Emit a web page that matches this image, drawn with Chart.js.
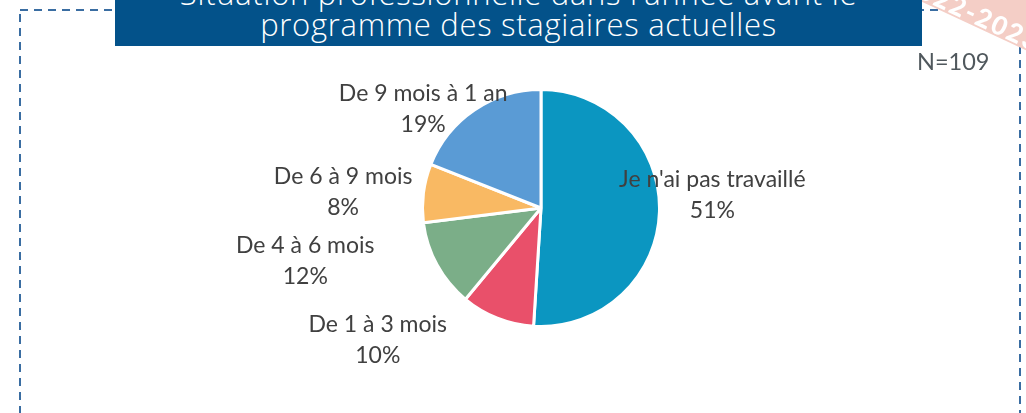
<!DOCTYPE html>
<html lang="fr">
<head>
<meta charset="utf-8">
<script src="https://cdn.jsdelivr.net/npm/chart.js@4/dist/chart.umd.min.js"></script>
<style>
  html, body { margin: 0; padding: 0; background: #fff; }
  #wrap { position: relative; width: 1026px; height: 413px; overflow: hidden; }
  #pie { position: absolute; left: 0; top: 0; }
  .banner {
    position: absolute; left: 115px; top: 0; width: 807px; height: 46px;
    background: #03528a; color: #fff; overflow: hidden;
    font-family: "Open Sans", sans-serif; font-weight: 300; font-size: 31px;
    line-height: 30px; letter-spacing: 0.7px; text-align: center;
  }
  .banner div { position: absolute; left: 0; right: 0; white-space: nowrap; }
  .nlabel {
    position: absolute; left: 917px; top: 47px;
    font-family: "Lato", sans-serif; font-size: 23.5px; color: #50585d;
  }
  .stamp {
    position: absolute; left: 918px; top: -70px; width: 220px; height: 70px;
    background: #f4cec6; transform: rotate(25deg); transform-origin: 0 100%;
  }
  .stamp span {
    position: absolute; left: -20px; bottom: -4px;
    color: #fff; font-family: "Lato", sans-serif; font-weight: 900; font-size: 26px;
    letter-spacing: 2px; white-space: nowrap;
  }
</style>
</head>
<body>
<div id="wrap">
  <canvas id="pie" width="1026" height="413"></canvas>
  <div class="stamp"><span>2022-2023</span></div>
  <div class="banner">
    <div style="top:-22px">Situation professionnelle dans l'année avant le</div>
    <div style="top:9px">programme des stagiaires actuelles</div>
  </div>
  <div class="nlabel">N=109</div>
</div>
<script>
// Situation professionnelle, % des stagiaires (N=109)
const categories = ["Je n'ai pas travaillé", 'De 1 à 3 mois', 'De 4 à 6 mois', 'De 6 à 9 mois', 'De 9 mois à 1 an'];
const shares = [51, 10, 12, 8, 19];
const sliceColors = ['#0b96c1', '#e9506a', '#7bae88', '#f9b963', '#5a9bd5'];

// label placement: angle offset from slice middle (deg) and distance in radii
const labelPlacement = [
  { da: -6, r: 1.45 },
  { da: 29.5, r: 1.77 },
  { da: 16, r: 2.04 },
  { da: -2.7, r: 1.675 },
  { da: -15.7, r: 1.30 }
];

const frame = {
  id: 'frame',
  beforeDraw(chart) {
    const ctx = chart.ctx;
    ctx.save();
    ctx.strokeStyle = '#3a6da2';
    ctx.lineWidth = 2;
    ctx.setLineDash([8, 6]);
    ctx.strokeRect(20, 10, 1000, 420);
    ctx.restore();
  }
};

const sliceLabels = {
  id: 'sliceLabels',
  afterDatasetsDraw(chart) {
    const ctx = chart.ctx;
    const arcs = chart.getDatasetMeta(0).data;
    const total = shares.reduce((a, b) => a + b, 0);
    ctx.save();
    ctx.fillStyle = '#404040';
    ctx.font = '23px Lato, sans-serif';
    ctx.textAlign = 'center';
    ctx.textBaseline = 'middle';
    arcs.forEach((arc, i) => {
      const p = labelPlacement[i];
      const mid = (arc.startAngle + arc.endAngle) / 2 + p.da * Math.PI / 180;
      const x = arc.x + Math.cos(mid) * arc.outerRadius * p.r;
      const y = arc.y + Math.sin(mid) * arc.outerRadius * p.r;
      ctx.fillText(categories[i], x, y - 15.5);
      ctx.fillText(Math.round(shares[i] / total * 100) + '%', x, y + 15.5);
    });
    ctx.restore();
  }
};

new Chart(document.getElementById('pie').getContext('2d'), {
  type: 'pie',
  data: {
    labels: categories,
    datasets: [{
      data: shares,
      backgroundColor: sliceColors,
      borderColor: '#ffffff',
      borderWidth: 3
    }]
  },
  options: {
    responsive: false,
    animation: false,
    devicePixelRatio: 1,
    layout: { padding: { left: 421, right: 365, top: 88, bottom: 85 } },
    plugins: { legend: { display: false }, tooltip: { enabled: false } }
  },
  plugins: [frame, sliceLabels]
});
</script>
</body>
</html>
